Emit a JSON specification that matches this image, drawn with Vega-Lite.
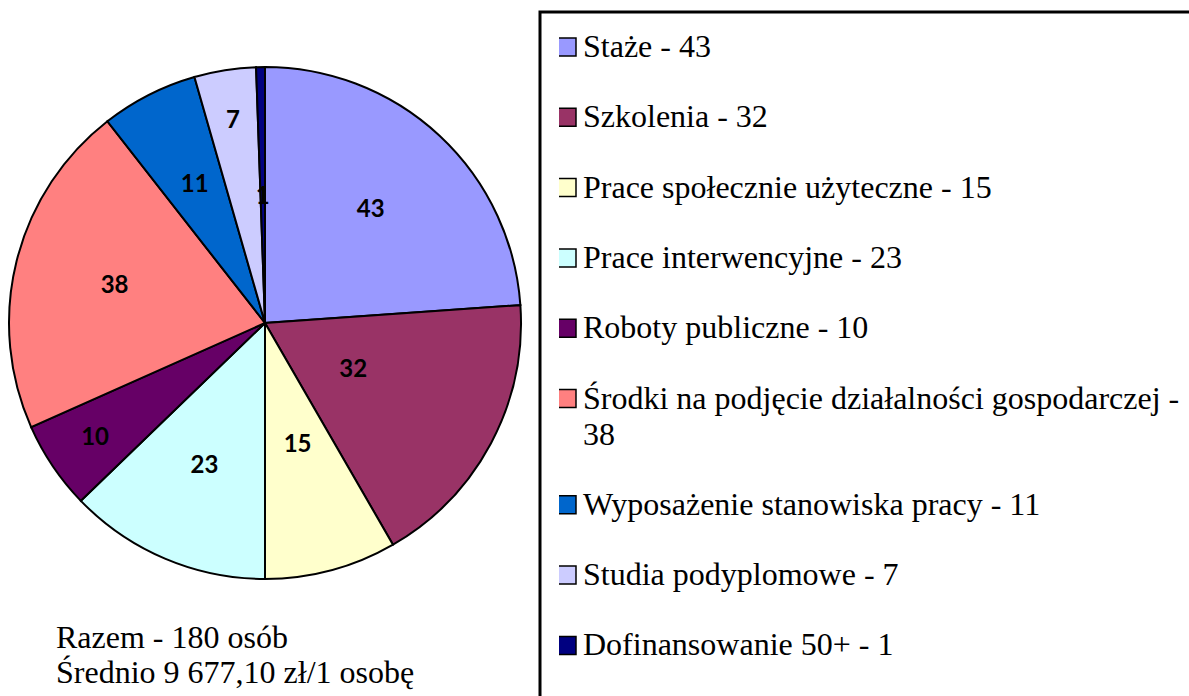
{
  "$schema": "https://vega.github.io/schema/vega-lite/v6.json",
  "width": 512,
  "height": 512,
  "autosize": {"type": "none"},
  "padding": {"left": 9, "top": 67, "right": 668, "bottom": 117},
  "background": "white",
  "config": {
    "view": {"stroke": null},
    "legend": {"labelFont": "Liberation Serif", "labelFontSize": 32, "labelColor": "black"}
  },
  "title": {
    "text": ["Razem - 180 osób", "Średnio 9 677,10 zł/1 osobę"],
    "orient": "bottom",
    "anchor": "start",
    "baseline": "top",
    "font": "Liberation Serif",
    "fontSize": 32,
    "fontWeight": "normal",
    "color": "black",
    "dx": 51,
    "dy": -96,
    "offset": 0,
    "lineHeight": 35
  },
  "data": {
    "values": [
      {"label": "Staże - 43", "value": 43, "order": 1},
      {"label": "Szkolenia - 32", "value": 32, "order": 2},
      {"label": "Prace społecznie użyteczne - 15", "value": 15, "order": 3},
      {"label": "Prace interwencyjne - 23", "value": 23, "order": 4},
      {"label": "Roboty publiczne - 10", "value": 10, "order": 5},
      {"label": "Środki na podjęcie działalności gospodarczej - 38", "value": 38, "order": 6},
      {"label": "Wyposażenie stanowiska pracy - 11", "value": 11, "order": 7},
      {"label": "Studia podyplomowe - 7", "value": 7, "order": 8},
      {"label": "Dofinansowanie 50+ - 1", "value": 1, "order": 9}
    ]
  },
  "encoding": {
    "theta": {"field": "value", "type": "quantitative", "stack": true},
    "order": {"field": "order", "type": "quantitative"}
  },
  "layer": [
    {
      "mark": {"type": "arc", "outerRadius": 256, "stroke": "black", "strokeWidth": 2},
      "encoding": {
        "color": {
          "field": "label",
          "type": "nominal",
          "sort": null,
          "scale": {
            "domain": [
              "Staże - 43",
              "Szkolenia - 32",
              "Prace społecznie użyteczne - 15",
              "Prace interwencyjne - 23",
              "Roboty publiczne - 10",
              "Środki na podjęcie działalności gospodarczej - 38",
              "Wyposażenie stanowiska pracy - 11",
              "Studia podyplomowe - 7",
              "Dofinansowanie 50+ - 1"
            ],
            "range": ["#9999FF", "#993366", "#FFFFCC", "#CCFFFF", "#660066", "#FF8080", "#0066CC", "#CCCCFF", "#000080"]
          },
          "legend": {
            "orient": "none",
            "legendX": 531,
            "legendY": -55,
            "title": null,
            "padding": 19,
            "symbolOffset": -8,
            "strokeColor": "black",
            "symbolType": "square",
            "symbolSize": 324,
            "symbolStrokeColor": "black",
            "symbolStrokeWidth": 1.5,
            "symbolOpacity": 1,
            "labelFont": "Liberation Serif",
            "labelFontSize": 32,
            "labelColor": "black",
            "labelOffset": 0,
            "labelLimit": 1000,
            "rowPadding": 38.3,
            "clipHeight": 32,
            "labelExpr": "datum.label == 'Środki na podjęcie działalności gospodarczej - 38' ? ['Środki na podjęcie działalności gospodarczej -', '38'] : datum.label == 'Dofinansowanie 50+ - 1' ? ['Dofinansowanie 50+ - 1', ''] : datum.label",
            "encode": {
              "legend": {"update": {"strokeWidth": {"value": 3}}},
              "labels": {"update": {"font": {"value": "Liberation Serif"}, "fontSize": {"value": 32}, "lineHeight": {"value": 36}}}
            }
          }
        }
      }
    },
    {
      "mark": {"type": "text", "radius": 155, "font": "Lato", "fontWeight": "bold", "fontSize": 24, "color": "black"},
      "encoding": {
        "text": {"condition": {"test": "indexof([1, 4, 6, 7], datum.order) >= 0", "field": "value", "type": "quantitative"}, "value": ""}
      }
    },
    {
      "mark": {"type": "text", "radius": 205, "font": "Lato", "fontWeight": "bold", "fontSize": 24, "color": "black"},
      "encoding": {
        "text": {"condition": {"test": "indexof([5, 8], datum.order) >= 0", "field": "value", "type": "quantitative"}, "value": ""}
      }
    },
    {
      "mark": {"type": "text", "radius": 126, "font": "Lato", "fontWeight": "bold", "fontSize": 24, "color": "black"},
      "encoding": {
        "text": {"condition": {"test": "indexof([3, 9], datum.order) >= 0", "field": "value", "type": "quantitative"}, "value": ""}
      }
    },
    {
      "mark": {"type": "text", "radius": 100, "font": "Lato", "fontWeight": "bold", "fontSize": 24, "color": "black"},
      "encoding": {
        "text": {"condition": {"test": "datum.order == 2", "field": "value", "type": "quantitative"}, "value": ""}
      }
    }
  ]
}
